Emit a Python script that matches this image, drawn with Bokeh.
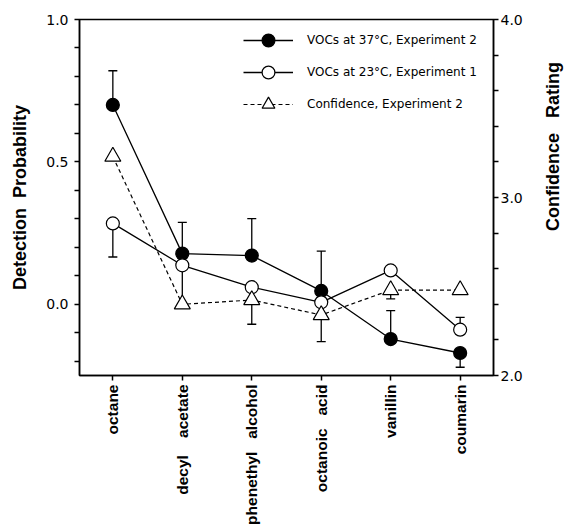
import math
from bokeh.plotting import figure
from bokeh.layouts import row
from bokeh.models import (Range1d, LinearAxis, FixedTicker, Whisker, ColumnDataSource,
                          Legend, LegendItem, TeeHead, PrintfTickFormatter)
from bokeh.core.properties import value
from bokeh.embed import file_html
from bokeh.resources import INLINE

NB = "\u00a0"
categories = ["octane", "decyl acetate", "phenethyl alcohol", "octanoic acid", "vanillin", "coumarin"]
cat_labels = ["octane", "decyl" + NB * 4 + "acetate", "phenethyl" + NB * 3 + "alcohol",
              "octanoic" + NB * 3 + "acid", "vanillin", "coumarin"]

# Detection probability, VOCs at 37°C, Experiment 2
p37 = [0.70, 0.178, 0.171, 0.047, -0.122, -0.171]
p37_up = [0.12, 0.11, 0.13, 0.14, 0.10, 0.0]
p37_dn = [0.0, 0.0, 0.0, 0.0, 0.0, 0.05]
# Detection probability, VOCs at 23°C, Experiment 1
p23 = [0.284, 0.137, 0.06, 0.007, 0.119, -0.089]
p23_up = [0.0, 0.0, 0.0, 0.0, 0.0, 0.043]
p23_dn = [0.118, 0.137, 0.0, 0.0, 0.0, 0.0]
# Confidence rating, Experiment 2
conf = [3.23, 2.40, 2.424, 2.34, 2.48, 2.48]
conf_up = [0.0, 0.0, 0.0, 0.0, 0.0, 0.0]
conf_dn = [0.0, 0.0, 0.136, 0.15, 0.05, 0.0]

left_ticks = [0.0, 0.5, 1.0]
left_minor = [-0.2, -0.1, 0.1, 0.2, 0.3, 0.4, 0.6, 0.7, 0.8, 0.9]
right_ticks = [2.0, 3.0, 4.0]
right_minor = [2.2, 2.4, 2.6, 2.8, 3.2, 3.4, 3.6, 3.8]

left_title = "Detection" + NB * 2 + "Probability"
right_title = "Confidence" + NB * 3 + "Rating"

xs = list(range(len(categories)))

p = figure(width=537, height=527, output_backend="svg", toolbar_location=None,
           x_range=Range1d(-0.48, 5.48), y_range=Range1d(-0.25, 1.0),
           min_border_left=79, min_border_right=44, min_border_top=19, min_border_bottom=152)
p.extra_y_ranges = {"conf": Range1d(2.0, 4.0)}
p.xgrid.visible = False
p.ygrid.visible = False
p.outline_line_color = "black"
p.outline_line_width = 1.5
p.background_fill_color = "white"
p.border_fill_color = "white"

right = LinearAxis(y_range_name="conf")
p.add_layout(right, "right")


def style_axis(ax):
    ax.axis_line_color = "black"
    ax.axis_line_width = 1.5
    ax.major_tick_line_color = "black"
    ax.major_tick_line_width = 1.5
    ax.minor_tick_line_color = "black"
    ax.minor_tick_line_width = 1.5
    ax.major_tick_out = 5
    ax.major_tick_in = 0
    ax.minor_tick_out = 5
    ax.minor_tick_in = 0
    ax.major_label_text_color = "black"
    ax.axis_label_text_color = "black"
    ax.axis_label_text_font = "Liberation Sans"
    ax.axis_label_text_font_style = "bold"
    ax.axis_label_text_font_size = "18px"


left = p.yaxis[0]
bottom = p.xaxis[0]
for ax in (left, right, bottom):
    style_axis(ax)

left.ticker = FixedTicker(ticks=left_ticks, minor_ticks=left_minor)
left.formatter = PrintfTickFormatter(format="%.1f")
left.major_label_text_font = "DejaVu Sans"
left.major_label_text_font_size = "14px"
left.major_label_standoff = 6
left.axis_label = left_title
left.axis_label_standoff = 13

right.ticker = FixedTicker(ticks=right_ticks, minor_ticks=right_minor)
right.formatter = PrintfTickFormatter(format="%.1f")
right.major_label_text_font = "DejaVu Sans"
right.major_label_text_font_size = "14px"
right.major_label_standoff = 2

bottom.ticker = FixedTicker(ticks=xs, minor_ticks=[])
bottom.major_label_overrides = {i: lab for i, lab in zip(xs, cat_labels)}
bottom.major_label_orientation = math.pi / 2
bottom.major_label_text_font = "Liberation Sans"
bottom.major_label_text_font_style = "bold"
bottom.major_label_text_font_size = "15.5px"
bottom.major_label_standoff = 4

# lines
l37 = p.line(xs, p37, line_color="black", line_width=1.3)
l23 = p.line(xs, p23, line_color="black", line_width=1.3)
lcf = p.line(xs, conf, line_color="black", line_width=1.2, line_dash="4 3", y_range_name="conf")


def add_whiskers(vals, up, dn, yname="default"):
    ux = [x for x, u in zip(xs, up) if u > 0]
    uy = [v for v, u in zip(vals, up) if u > 0]
    uu = [v + u for v, u in zip(vals, up) if u > 0]
    dx = [x for x, d in zip(xs, dn) if d > 0]
    dy = [v for v, d in zip(vals, dn) if d > 0]
    dd = [v - d for v, d in zip(vals, dn) if d > 0]
    if ux:
        src = ColumnDataSource(dict(x=ux, lo=uy, hi=uu))
        w = Whisker(source=src, base="x", lower="lo", upper="hi", y_range_name=yname,
                    line_color="black", line_width=1.3,
                    upper_head=TeeHead(size=9, line_color="black", line_width=1.3), lower_head=None)
        p.add_layout(w)
    if dx:
        src = ColumnDataSource(dict(x=dx, lo=dd, hi=dy))
        w = Whisker(source=src, base="x", lower="lo", upper="hi", y_range_name=yname,
                    line_color="black", line_width=1.3,
                    lower_head=TeeHead(size=9, line_color="black", line_width=1.3), upper_head=None)
        p.add_layout(w)


add_whiskers(p37, p37_up, p37_dn)
add_whiskers(p23, p23_up, p23_dn)
add_whiskers(conf, conf_up, conf_dn, "conf")

s37 = p.scatter(xs, p37, marker="circle", size=13, fill_color="black", line_color="black", line_width=1.2)
s23 = p.scatter(xs, p23, marker="circle", size=13, fill_color="white", line_color="black", line_width=1.2)
scf = p.scatter(xs, conf, marker="triangle", size=16, fill_color="white", line_color="black",
                line_width=1.2, y_range_name="conf")

legend = Legend(items=[
    LegendItem(label="VOCs at 37°C, Experiment 2", renderers=[l37, s37]),
    LegendItem(label="VOCs at 23°C, Experiment 1", renderers=[l23, s23]),
    LegendItem(label="Confidence, Experiment 2", renderers=[lcf, scf]),
], location=(164, 255), glyph_width=50, glyph_height=32, spacing=0, label_standoff=14,
    padding=0, margin=0, border_line_color=None, background_fill_alpha=0,
    label_text_font="DejaVu Sans", label_text_font_size="12px", label_text_color="black")
p.add_layout(legend)

# narrow strip on the right that carries the right-hand title, reading bottom to top
t = figure(width=28, height=527, output_backend="svg", toolbar_location=None,
           x_range=Range1d(0, 28), y_range=Range1d(0, 527), x_axis_type=None, y_axis_type=None,
           min_border_left=0, min_border_right=0, min_border_top=0, min_border_bottom=0)
t.outline_line_color = None
t.background_fill_color = "white"
t.border_fill_color = "white"
t.text(x=[15], y=[339], text=[right_title], angle=math.pi / 2, text_align="center",
       text_baseline="middle", text_font=value("Liberation Sans"), text_font_style="bold",
       text_font_size="18px", text_color="black")

layout = row(p, t, spacing=0)
open("out.html", "w").write(file_html(layout, INLINE))
